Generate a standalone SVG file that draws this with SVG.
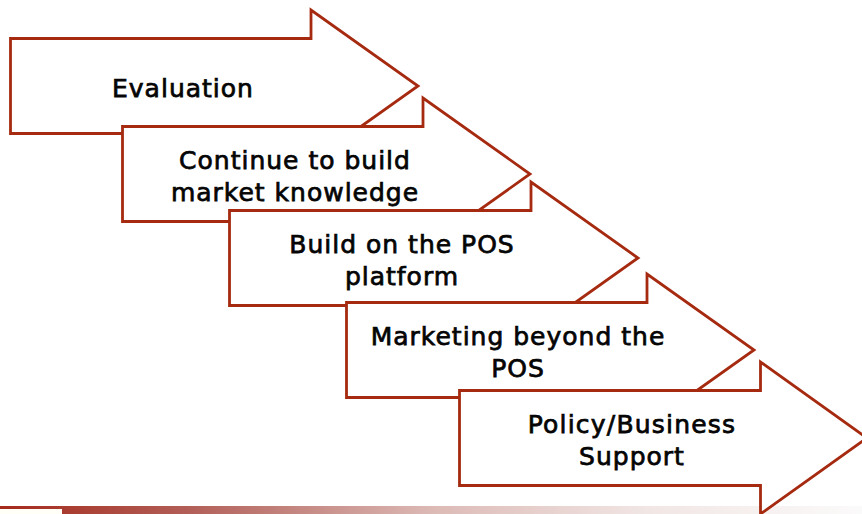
<svg xmlns="http://www.w3.org/2000/svg" width="862" height="514" viewBox="0 0 862 514">
<style>
.a{fill:#fff;stroke:#a52a10;stroke-width:2.8;stroke-linejoin:miter}
text{font-family:"DejaVu Sans","Liberation Sans",sans-serif;font-size:25px;letter-spacing:1px;fill:#050505;text-anchor:middle;stroke:#050505;stroke-width:.75px}
.w{letter-spacing:1.2px}
</style>
<defs>
<linearGradient id="g" x1="0" x2="1" y1="0" y2="0">
<stop offset="0" stop-color="#a52a1c"/>
<stop offset=".22" stop-color="#b25f58"/>
<stop offset=".5" stop-color="#dcb9b5"/>
<stop offset=".75" stop-color="#f1e6e4"/>
<stop offset="1" stop-color="#fbfafa"/>
</linearGradient>
</defs>
<g id="band">
<rect x="0" y="506" width="862" height="8" fill="url(#g)"/>
<rect x="0" y="509" width="62" height="5" fill="#fffff8"/>
</g>
<g id="node1">
<path class="a" d="M10.5 38.5H311V10L418 86L311 162V133.5H10.5Z"/>
<text x="183" y="97">Evaluation</text>
</g>
<g id="node2">
<path class="a" d="M122.5 126.5H423V98L530 174L423 250V221.5H122.5Z"/>
<text x="295" y="169">Continue to build</text>
<text x="295" y="201">market knowledge</text>
</g>
<g id="node3">
<path class="a" d="M229.5 210.5H531V182L638 258L531 334V305.5H229.5Z"/>
<text x="402" y="253">Build on the POS</text>
<text x="402" y="285">platform</text>
</g>
<g id="node4">
<path class="a" d="M346.5 302.5H647V274L754 350L647 426V397.5H346.5Z"/>
<text x="518" y="345">Marketing beyond the</text>
<text x="518" y="377">POS</text>
</g>
<g id="node5">
<path class="a" d="M459.5 390.5H760.5V362L867 438L760.5 514V485.5H459.5Z"/>
<text class="w" x="632" y="433">Policy/Business</text>
<text x="632" y="465">Support</text>
</g>
<g id="connectors"/>
</svg>
